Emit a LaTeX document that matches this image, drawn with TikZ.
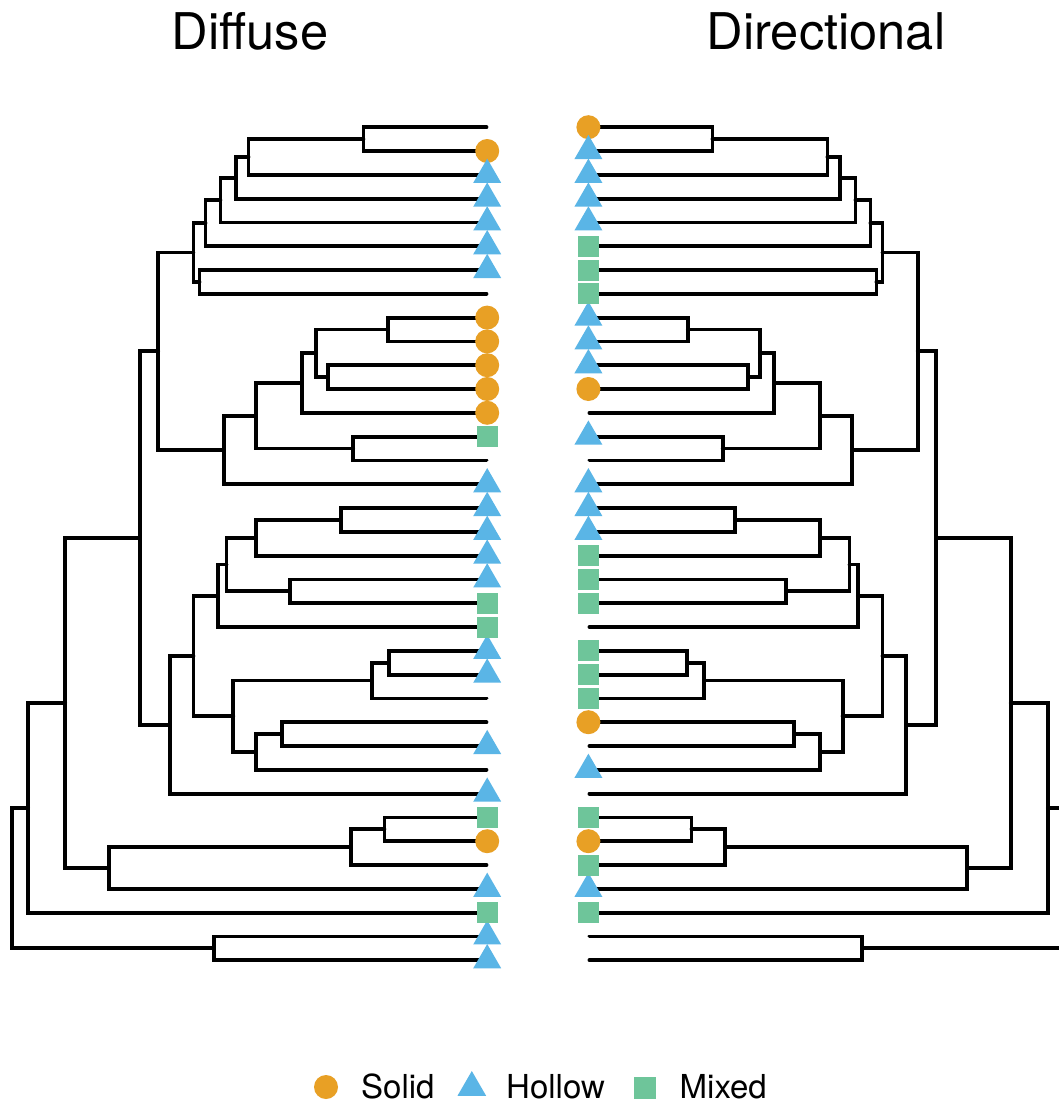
\documentclass[tikz,border=0pt]{standalone}
\usepackage{fontspec}
\setmainfont{TeX Gyre Heros}
\usetikzlibrary{shapes.geometric}
\definecolor{cSolid}{HTML}{E8A025}
\definecolor{cHollow}{HTML}{5AB5E6}
\definecolor{cMixed}{HTML}{6EC59A}
\begin{document}
\begin{tikzpicture}[x=1pt,y=-1pt,
  branch/.style={line width=3.8pt, line cap=round, line join=miter, black},
  mkSolid/.style={circle, fill=cSolid, minimum size=24pt, inner sep=0pt},
  mkHollow/.style={regular polygon, regular polygon sides=3, fill=cHollow, minimum size=32.3pt, inner sep=0pt},
  mkMixed/.style={rectangle, fill=cMixed, minimum size=21pt, inner sep=0pt},
  title/.style={anchor=base, inner sep=0pt, font=\fontsize{50.6}{60}\selectfont},
  legtext/.style={anchor=base west, inner sep=0pt, font=\fontsize{33}{40}\selectfont}]
\fill[white] (0,0) rectangle (1059,1105);
\begin{scope}
\clip (0,0) rectangle (1059,1105);
% leaves
\foreach \k in {0,...,35}{
  \coordinate (dL-\k) at (486.5,{127.2+23.8*\k});
  \coordinate (dR-\k) at (589.4,{127.2+23.8*\k});
}
% internal nodes: name / left x / leaf-index position
\foreach \n/\x/\i in {A/363.4/0.5, B/248.5/1.25, C/235.6/2.125, D/220.4/3.0625,
  E/205.5/4.03125, F/199.5/6.5, G/193.4/5.265625, H/158.2/9.4140625,
  I/388.1/8.5, J/327.9/10.5, K/316.1/9.5, Ln/301.9/10.75, M/353.3/13.5,
  N/255.9/12.125, O/223.8/13.5625, P/139.6/17.26171875,
  Q/340.8/16.5, R/255.9/17.25, S/289.7/19.5, T/226.5/18.375, U/218.1/19.6875,
  V/388.8/22.5, W/371.9/23.25, X/193.4/22.21875, Y/233.3/24.75,
  Z/281.6/25.5, AA/255.9/26.25, BB/170.0/25.109375,
  CC/384.4/29.5, DD/350.6/30.25, EE/108.9/31.125, FF/65.2/24.193359375,
  GG/28.1/28.5966796875, HH/213.7/34.5, RT/11.8/31.548339844}{
  \coordinate (dL-\n) at (\x,{127.2+23.8*\i});
  \coordinate (dR-\n) at ({1075.9-\x},{127.2+23.8*\i});
}
% branches: parent / child
\foreach \p/\c in {A/0, A/1, B/A, B/2, C/B, C/3, D/C, D/4, E/D, E/5, F/6, F/7,
  G/E, G/F, H/G, H/O, I/8, I/9, J/10, J/11, K/I, K/J, Ln/K, Ln/12, M/13, M/14,
  N/Ln, N/M, O/N, O/15, P/H, P/BB, Q/16, Q/17, R/Q, R/18, S/19, S/20, T/R, T/S,
  U/T, U/21, V/22, V/23, W/V, W/24, Z/25, Z/26, AA/Z, AA/27, Y/W, Y/AA, X/U, X/Y,
  BB/X, BB/28, CC/29, CC/30, DD/CC, DD/31, EE/DD, EE/32, FF/P, FF/EE, GG/FF, GG/33,
  HH/34, HH/35, RT/GG, RT/HH}{
  \draw[branch] (dL-\p) |- (dL-\c);
  \draw[branch] (dR-\p) |- (dR-\c);
}
% markers, left tree (Diffuse)
\foreach \k in {1,8,9,10,11,12,30}{\node[mkSolid] (mL-\k) at ([xshift=0.7pt]dL-\k) {};}
\foreach \k in {2,3,4,5,6,15,16,17,18,19,22,23,26,28,32,34,35}{\node[mkHollow] (mL-\k) at ([xshift=0.7pt]dL-\k) {};}
\foreach \k in {13,20,21,29,33}{\node[mkMixed] (mL-\k) at ([xshift=0.7pt]dL-\k) {};}
% markers, right tree (Directional)
\foreach \k in {0,11,25,30}{\node[mkSolid] (mR-\k) at ([xshift=-1pt]dR-\k) {};}
\foreach \k in {1,2,3,4,8,9,10,13,15,16,17,27,32}{\node[mkHollow] (mR-\k) at ([xshift=-1pt]dR-\k) {};}
\foreach \k in {5,6,7,18,19,20,22,23,24,29,31,33}{\node[mkMixed] (mR-\k) at ([xshift=-1pt]dR-\k) {};}
\end{scope}
% titles
\node[title] (tDiffuse) at (250,50) {Diffuse};
\node[title] (tDirectional) at (826,50) {Directional};
% legend
\node[mkSolid] (legSolid) at (326,1087) {};
\node[legtext] (legSolidT) at (361,1098.5) {Solid};
\node[mkHollow, minimum size=33pt] (legHollow) at (471.8,1087.5) {};
\node[legtext] (legHollowT) at (506,1098.5) {Hollow};
\node[mkMixed, minimum size=21.7pt] (legMixed) at (645.2,1087.8) {};
\node[legtext] (legMixedT) at (679.5,1098.5) {Mixed};
\pgfresetboundingbox
\useasboundingbox (0,0) rectangle (1059,1105);
\end{tikzpicture}
\end{document}
